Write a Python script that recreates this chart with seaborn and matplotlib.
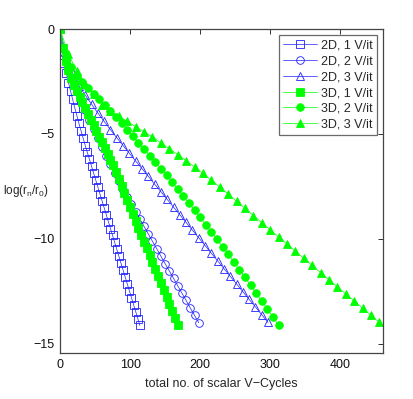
import numpy as np
import pandas as pd
import matplotlib
matplotlib.use("Agg")
import matplotlib.pyplot as plt
import seaborn as sns

# ---- data ----
labels = ["2D, 1 V/it", "2D, 2 V/it", "2D, 3 V/it", "3D, 1 V/it", "3D, 2 V/it", "3D, 3 V/it"]

x_2d_1 = list(range(0, 115, 3))
y_2d_1 = [0, -0.9, -1.6, -2.1, -2.55, -2.95, -3.35, -3.75, -4.12, -4.5, -4.85, -5.2, -5.55,
          -5.88, -6.21, -6.54, -6.87, -7.2, -7.53, -7.86, -8.19, -8.52, -8.85, -9.18, -9.51,
          -9.84, -10.17, -10.5, -10.83, -11.16, -11.49, -11.82, -12.15, -12.48, -12.81,
          -13.14, -13.47, -13.8, -14.13]

x_2d_2 = list(range(0, 199, 6))
y_2d_2 = [0, -1.15, -1.9, -2.45, -2.95, -3.42, -3.88, -4.32, -4.76, -5.19, -5.61, -6.03,
          -6.44, -6.85, -7.25, -7.65, -8.0, -8.36, -8.71, -9.06, -9.41, -9.77, -10.12,
          -10.47, -10.83, -11.18, -11.53, -11.88, -12.24, -12.59, -12.94, -13.3, -13.65, -14.0]

x_2d_3 = list(range(0, 298, 9))
y_2d_3 = [0, -1.3, -2.1, -2.7, -3.15, -3.58, -4.0, -4.4, -4.8, -5.18, -5.55, -5.92, -6.29,
          -6.65, -7.02, -7.39, -7.75, -8.12, -8.49, -8.85, -9.22, -9.59, -9.95, -10.32,
          -10.69, -11.05, -11.42, -11.79, -12.15, -12.52, -12.89, -13.25, -13.62, -13.99]

x_3d_1 = list(range(0, 169, 4))
y_3d_1 = [0, -0.9, -1.5, -1.95, -2.32, -2.65, -2.95, -3.22, -3.49, -3.76, -4.04, -4.31,
          -4.58, -4.86, -5.13, -5.4, -5.68, -5.95, -6.22, -6.5, -6.83, -7.16, -7.49, -7.82,
          -8.15, -8.48, -8.81, -9.14, -9.47, -9.8, -10.13, -10.46, -10.79, -11.12, -11.45,
          -11.78, -12.11, -12.44, -12.77, -13.1, -13.43, -13.76, -14.09]

x_3d_2 = list(range(0, 313, 8))
y_3d_2 = [0, -1.2, -1.8, -2.25, -2.52, -2.79, -3.07, -3.35, -3.63, -3.92, -4.21, -4.5,
          -4.8, -5.1, -5.41, -5.71, -6.03, -6.34, -6.66, -6.98, -7.31, -7.64, -7.97, -8.3,
          -8.64, -8.98, -9.33, -9.67, -10.03, -10.38, -10.74, -11.1, -11.47, -11.84,
          -12.21, -12.59, -12.97, -13.35, -13.74, -14.13]

x_3d_3 = list(range(0, 457, 12))
y_3d_3 = [0, -1.2, -2.0, -2.6, -3.1, -3.6, -3.9, -4.15, -4.4, -4.65, -4.9, -5.15, -5.42,
          -5.7, -5.98, -6.27, -6.57, -6.88, -7.2, -7.53, -7.87, -8.21, -8.55, -8.89, -9.23,
          -9.57, -9.91, -10.25, -10.59, -10.93, -11.27, -11.61, -11.95, -12.29, -12.63,
          -12.97, -13.31, -13.65, -13.99]

xs = [x_2d_1, x_2d_2, x_2d_3, x_3d_1, x_3d_2, x_3d_3]
ys = [y_2d_1, y_2d_2, y_2d_3, y_3d_1, y_3d_2, y_3d_3]

x_ticks = [0, 100, 200, 300, 400]
y_ticks = [0, -5, -10, -15]

# ---- styling ----
sns.set_style("white")
plt.rcParams["font.family"] = ["Liberation Sans", "DejaVu Sans"]
plt.rcParams["mathtext.fontset"] = "custom"
plt.rcParams["mathtext.rm"] = "Liberation Sans"

blue = "#2020ff"
green = "#00ff00"
styles = [
    dict(marker="s", color=blue, markerfacecolor="none", markeredgecolor=blue),
    dict(marker="o", color=blue, markerfacecolor="none", markeredgecolor=blue),
    dict(marker="^", color=blue, markerfacecolor="none", markeredgecolor=blue),
    dict(marker="s", color=green, markerfacecolor=green, markeredgecolor=green),
    dict(marker="o", color=green, markerfacecolor=green, markeredgecolor=green),
    dict(marker="^", color=green, markerfacecolor=green, markeredgecolor=green),
]

fig = plt.figure(figsize=(4.14, 3.99), dpi=100)
ax = fig.add_axes([0.145, 0.115, 0.78, 0.812])

for x, y, lab, st in zip(xs, ys, labels, styles):
    df = pd.DataFrame({"x": x, "y": y})
    sns.lineplot(data=df, x="x", y="y", ax=ax, label=lab, linewidth=0.5,
                 markersize=5.5, markeredgewidth=0.6, errorbar=None, **st)

ax.set_xlim(0, 461)
ax.set_ylim(-15.45, 0)
ax.set_xticks(x_ticks)
ax.set_yticks(y_ticks)
ax.tick_params(direction="in", top=True, right=True, length=3.5, width=0.6,
               labelsize=9, colors="#111111", pad=4)
for s in ax.spines.values():
    s.set_color("#444444")
    s.set_linewidth(0.9)

ax.set_xlabel("total no. of scalar V\u2212Cycles", fontsize=9, labelpad=5)
ax.set_ylabel("log(r$_\\mathregular{n}$/r$_\\mathregular{0}$)", fontsize=8.5,
              rotation=0, ha="right", va="center")
ax.yaxis.set_label_coords(-0.035, 0.5)

leg = ax.legend(loc="upper right", fontsize=9, frameon=True, fancybox=False,
                edgecolor="#444444", borderpad=0.35, labelspacing=0.3,
                handlelength=2.7, handletextpad=0.3, borderaxespad=0.5)
leg.get_frame().set_linewidth(0.9)

fig.savefig("out.png", dpi=100)
